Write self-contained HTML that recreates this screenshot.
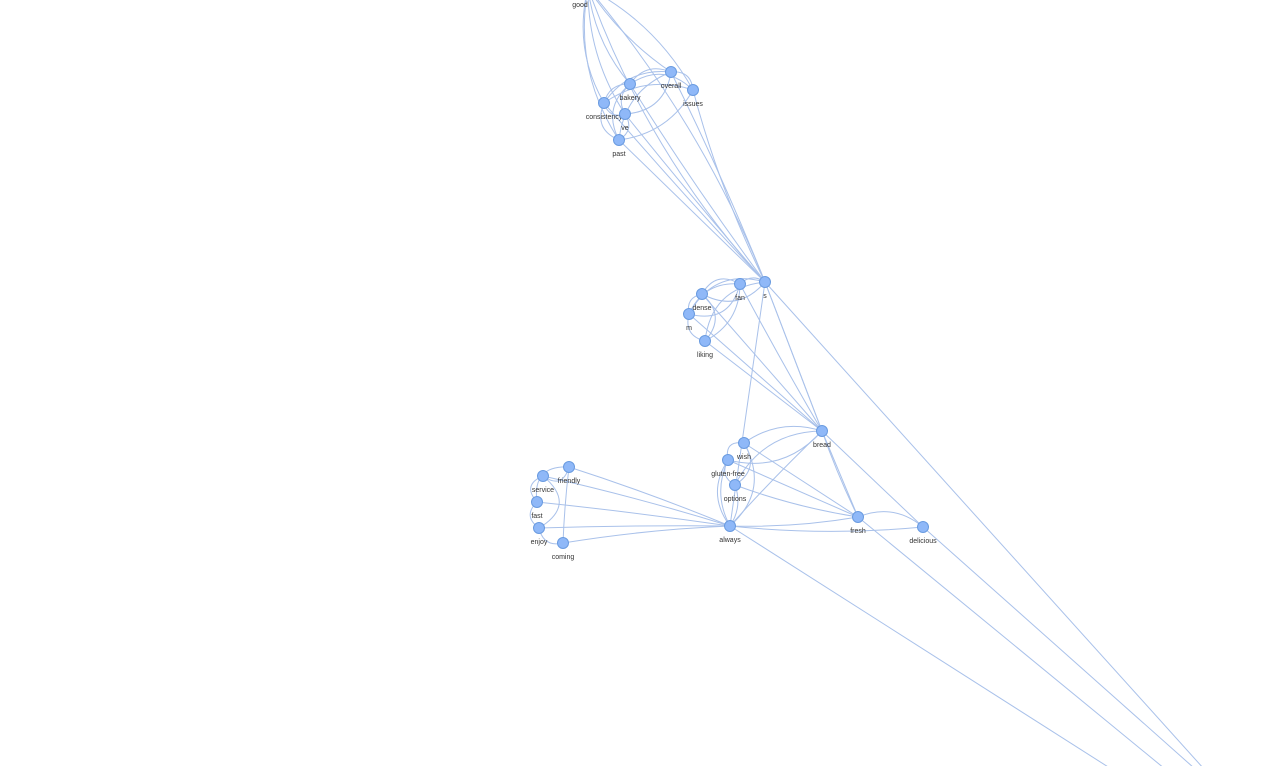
<!DOCTYPE html>
<html><head><meta charset="utf-8"><style>
html,body{margin:0;padding:0;background:#fff;width:1264px;height:766px;overflow:hidden}
svg{display:block;overflow:hidden}
svg text{font-family:"Liberation Sans",sans-serif;font-size:7px;fill:#333}
</style></head><body>
<svg id="g" width="1264" height="766" viewBox="0 0 1264 766"></svg>
<script>
const nodeNames=["good","bakery","overall","issues","consistency","ve","past","s","fan","dense","m","liking","bread","wish","gluten-free","options","always","fresh","delicious","friendly","service","fast","enjoy","coming","off1","off2","off3","off4"];
const nodeX=[588,630,671,693,604,625,619,765,740,702,689,705,822,744,728,735,730,858,923,569,543,537,539,563,1160,1215,1230,1250];
const nodeY=[-12,84,72,90,103,114,140,282,284,294,314,341,431,443,460,485,526,517,527,467,476,502,528,543,800,810,800,820];
const edgeFrom=[
"good","good","good","good","good","good","good","good",
"bakery","bakery","bakery","bakery","bakery","overall","overall","overall","overall","issues","issues","consistency","consistency","ve",
"bakery","overall","issues","consistency","ve","past",
"s","s","s","s","s","fan","fan","dense","dense","m","m","liking",
"fan","dense","m","liking",
"bread","bread","bread","bread","bread","bread","bread",
"wish","wish","gluten-free","gluten-free","options","options",
"always","always","always","always",
"always","always","always","always","always",
"friendly","friendly","service","service","fast","enjoy","friendly",
"fresh","always","fresh","delicious","s",
"s","wish","gluten-free","bread"];
const edgeTo=[
"bakery","overall","issues","consistency","ve","past","s","s",
"overall","consistency","ve","past","issues","issues","consistency","past","ve","consistency","past","ve","past","past",
"s","s","s","s","s","s",
"fan","dense","m","liking","bread","dense","m","m","liking","liking","fan","fan",
"bread","bread","bread","bread",
"wish","gluten-free","options","always","fresh","delicious","s",
"gluten-free","options","options","always","always","fresh",
"wish","gluten-free","fresh","delicious",
"friendly","service","fast","enjoy","coming",
"service","fast","fast","enjoy","enjoy","coming","coming",
"delicious","off1","off2","off3","off4",
"always","fresh","fresh","fresh"];
const edgeCurve=[
0.15,0.1,-0.15,0.2,0.15,0.2,0.1,-0.08,
-0.4,0.4,0.4,0.4,-0.4,-0.5,0.3,0.3,-0.4,0.25,-0.25,0.5,0.5,-0.5,
0.02,-0.02,0.05,0.01,0.01,0,
0.4,-0.4,0.4,0.4,0,0.5,-0.5,0.5,-0.5,0.5,-0.35,0.3,
0.01,0,0,0,
0.25,-0.3,0.3,0.02,0,0,0,
0.7,-0.5,0.5,0.25,-0.25,0.05,
0.4,-0.35,0.05,0.05,
0.02,0.02,0.01,0.01,0.03,
-0.7,0.6,0.7,-0.7,0.6,0.5,0.02,
-0.3,0,0,0,0,
0,0,0,0.03];
const svg=document.getElementById('g');
const NS='http://www.w3.org/2000/svg';
function idx(n){return nodeNames.indexOf(n);}
const eg=document.createElementNS(NS,'g');


svg.appendChild(eg);
for(let i=0;i<edgeFrom.length;i++){
 const a=idx(edgeFrom[i]),b=idx(edgeTo[i]);
 const x1=nodeX[a],y1=nodeY[a],x2=nodeX[b],y2=nodeY[b];
 const mx=(x1+x2)/2,my=(y1+y2)/2,dx=x2-x1,dy=y2-y1,c=edgeCurve[i]||0;
 const cx=mx-dy*c,cy=my+dx*c;
 const p=document.createElementNS(NS,'path');
 p.setAttribute('d',`M${x1},${y1} Q${cx},${cy} ${x2},${y2}`);
 p.setAttribute('fill','none');p.setAttribute('stroke','#a9c1ea');p.setAttribute('stroke-width','1');
 
 
 eg.appendChild(p);
}
for(let i=0;i<nodeNames.length;i++){
 if(nodeNames[i].startsWith('off'))continue;
 const c=document.createElementNS(NS,'circle');
 c.setAttribute('cx',nodeX[i]);c.setAttribute('cy',nodeY[i]);c.setAttribute('r',5.5);
 c.setAttribute('fill','#8fb8f8');c.setAttribute('stroke','#6a9be0');c.setAttribute('stroke-width','1');
 
 
 svg.appendChild(c);
 const t=document.createElementNS(NS,'text');
 t.setAttribute('x',nodeNames[i]==='good'?580:nodeX[i]);
 t.setAttribute('y',nodeNames[i]==='good'?7:nodeY[i]+16);
 t.setAttribute('text-anchor','middle');
 t.textContent=nodeNames[i];
 
 
 svg.appendChild(t);
}
</script>
</body></html>
